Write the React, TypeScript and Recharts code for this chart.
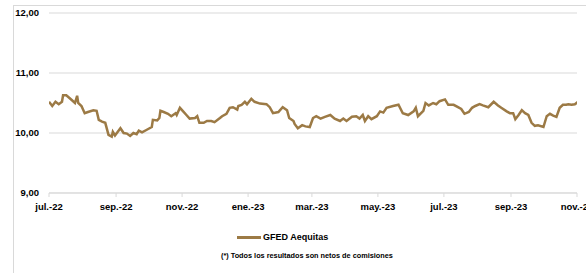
import React from 'react'
import { LineChart, Line, XAxis, YAxis, CartesianGrid, Legend } from 'recharts'

// fechas y valores cuota (aprox.)
const dates = [
  '2022-07-01', '2022-07-04', '2022-07-07', '2022-07-10', '2022-07-13', '2022-07-14', '2022-07-17', '2022-07-22',
  '2022-07-25', '2022-07-27', '2022-07-28', '2022-07-31', '2022-08-03', '2022-08-06', '2022-08-11', '2022-08-14',
  '2022-08-16', '2022-08-19', '2022-08-22', '2022-08-25', '2022-08-28', '2022-08-29', '2022-08-31', '2022-09-05',
  '2022-09-08', '2022-09-11', '2022-09-14', '2022-09-17', '2022-09-20', '2022-09-22', '2022-09-25', '2022-09-29',
  '2022-10-04', '2022-10-05', '2022-10-09', '2022-10-11', '2022-10-12', '2022-10-15', '2022-10-19', '2022-10-22',
  '2022-10-26', '2022-10-27', '2022-10-30', '2022-11-02', '2022-11-05', '2022-11-08', '2022-11-13', '2022-11-15',
  '2022-11-17', '2022-11-21', '2022-11-24', '2022-11-28', '2022-12-01', '2022-12-06', '2022-12-08', '2022-12-12',
  '2022-12-15', '2022-12-18', '2022-12-22', '2022-12-23', '2022-12-26', '2022-12-29', '2022-12-31', '2023-01-04',
  '2023-01-07', '2023-01-12', '2023-01-18', '2023-01-21', '2023-01-24', '2023-01-29', '2023-02-02', '2023-02-06',
  '2023-02-08', '2023-02-12', '2023-02-13', '2023-02-16', '2023-02-20', '2023-02-23', '2023-02-27', '2023-03-02',
  '2023-03-05', '2023-03-09', '2023-03-13', '2023-03-18', '2023-03-22', '2023-03-27', '2023-03-30', '2023-04-02',
  '2023-04-07', '2023-04-11', '2023-04-14', '2023-04-17', '2023-04-19', '2023-04-22', '2023-04-25', '2023-04-30',
  '2023-05-03', '2023-05-06', '2023-05-09', '2023-05-15', '2023-05-20', '2023-05-24', '2023-05-29', '2023-06-03',
  '2023-06-05', '2023-06-07', '2023-06-12', '2023-06-14', '2023-06-17', '2023-06-21', '2023-06-24', '2023-06-27',
  '2023-07-02', '2023-07-05', '2023-07-10', '2023-07-14', '2023-07-17', '2023-07-20', '2023-07-24', '2023-07-27',
  '2023-07-30', '2023-08-03', '2023-08-06', '2023-08-11', '2023-08-16', '2023-08-20', '2023-08-23', '2023-08-28',
  '2023-08-31', '2023-09-03', '2023-09-05', '2023-09-08', '2023-09-11', '2023-09-14', '2023-09-17', '2023-09-20',
  '2023-09-23', '2023-09-26', '2023-10-01', '2023-10-04', '2023-10-07', '2023-10-10', '2023-10-13', '2023-10-16',
  '2023-10-19', '2023-10-22', '2023-10-24', '2023-10-27', '2023-10-30', '2023-11-02',
]

const gfedAequitas = [
  10.52, 10.45, 10.52, 10.48, 10.52, 10.63, 10.63, 10.55,
  10.5, 10.62, 10.5, 10.45, 10.33, 10.35, 10.38, 10.37,
  10.22, 10.19, 10.17, 9.97, 9.94, 10.02, 9.96, 10.08,
  10.0, 9.99, 9.95, 10.0, 9.98, 10.04, 10.01, 10.05,
  10.1, 10.22, 10.21, 10.25, 10.37, 10.35, 10.32, 10.28,
  10.33, 10.3, 10.42, 10.36, 10.3, 10.24, 10.25, 10.28,
  10.17, 10.17, 10.2, 10.2, 10.18, 10.25, 10.28, 10.32,
  10.42, 10.43, 10.39, 10.45, 10.47, 10.52, 10.48, 10.57,
  10.52, 10.49, 10.48, 10.43, 10.33, 10.35, 10.43, 10.38,
  10.25, 10.2, 10.15, 10.08, 10.13, 10.11, 10.1, 10.25,
  10.28, 10.24, 10.27, 10.3, 10.24, 10.2, 10.24, 10.2,
  10.27, 10.28, 10.24, 10.3, 10.2, 10.28, 10.23, 10.28,
  10.36, 10.34, 10.42, 10.45, 10.47, 10.33, 10.3, 10.36,
  10.42, 10.28, 10.37, 10.5, 10.46, 10.5, 10.48, 10.53,
  10.56, 10.47, 10.47, 10.43, 10.4, 10.32, 10.35, 10.42,
  10.45, 10.48, 10.46, 10.43, 10.52, 10.46, 10.42, 10.36,
  10.33, 10.33, 10.23, 10.3, 10.38, 10.33, 10.3, 10.17,
  10.12, 10.13, 10.1, 10.28, 10.32, 10.29, 10.27, 10.42,
  10.47, 10.47, 10.48, 10.47, 10.48, 10.52,
]

const tickDates = [
  '2022-07-01', '2022-09-01', '2022-11-01', '2023-01-01', '2023-03-01',
  '2023-05-01', '2023-07-01', '2023-09-01', '2023-11-01',
]
const tickLabels = ['jul.-22', 'sep.-22', 'nov.-22', 'ene.-23', 'mar.-23', 'may.-23', 'jul.-23', 'sep.-23', 'nov.-23']
const yTicks = [9, 10, 11, 12]

const seriesName = 'GFED Aequitas'
const footnote = '(*) Todos los resultados son netos de comisiones'

const LINE_COLOR = '#9C7A45'
const GRID = '#d9d9d9'
const FONT = '"Liberation Sans", Arial, sans-serif'

const data = dates.map((d, i) => ({ t: Date.parse(d), value: gfedAequitas[i] }))
const xTicks = tickDates.map(d => Date.parse(d))

function LegendBox() {
  return (
    <div style={{ position: 'relative', width: 586, height: 50, fontFamily: FONT, fontWeight: 700, color: '#000' }}>
      <div style={{ position: 'absolute', left: 237, top: 9, display: 'flex', alignItems: 'center', fontSize: 9 }}>
        <span style={{ display: 'inline-block', width: 24, height: 3, background: LINE_COLOR, marginRight: 2 }} />
        <span>{seriesName}</span>
      </div>
      <div style={{ position: 'absolute', left: 221, top: 28, fontSize: 7.3, whiteSpace: 'nowrap' }}>{footnote}</div>
    </div>
  )
}

export default function App() {
  return (
    <div style={{ position: 'absolute', left: 0, top: 0, width: 586, height: 273, background: '#fff', overflow: 'hidden' }}>
      <div style={{ position: 'absolute', left: 13, top: 5, right: -2, bottom: -2, borderTop: `1px solid ${GRID}`, borderLeft: `1px solid ${GRID}` }} />
      <LineChart width={586} height={273} data={data} margin={{ top: 13, right: 9, left: 0, bottom: 0 }}>
        <CartesianGrid vertical={false} stroke={GRID} />
        <XAxis
          dataKey="t"
          type="number"
          scale="time"
          domain={[xTicks[0], xTicks[xTicks.length - 1]]}
          allowDataOverflow
          ticks={xTicks}
          tickFormatter={(v: number) => tickLabels[xTicks.indexOf(v)] ?? ''}
          height={30}
          stroke={GRID}
          tickSize={4}
          tick={{ fill: '#000', fontSize: 9.5, fontWeight: 700, fontFamily: FONT }}
          tickMargin={6}
          interval={0}
        />
        <YAxis
          domain={[9, 12]}
          ticks={yTicks}
          width={49}
          axisLine={false}
          tickLine={false}
          tickMargin={4}
          tickFormatter={(v: number) => v.toFixed(2).replace('.', ',')}
          tick={{ fill: '#000', fontSize: 9.5, fontWeight: 700, fontFamily: FONT }}
        />
        <Legend verticalAlign="bottom" height={50} content={() => <LegendBox />} wrapperStyle={{ left: 0, width: 586 }} />
        <Line
          type="linear"
          dataKey="value"
          name={seriesName}
          stroke={LINE_COLOR}
          strokeWidth={2.5}
          dot={false}
          isAnimationActive={false}
        />
      </LineChart>
    </div>
  )
}
